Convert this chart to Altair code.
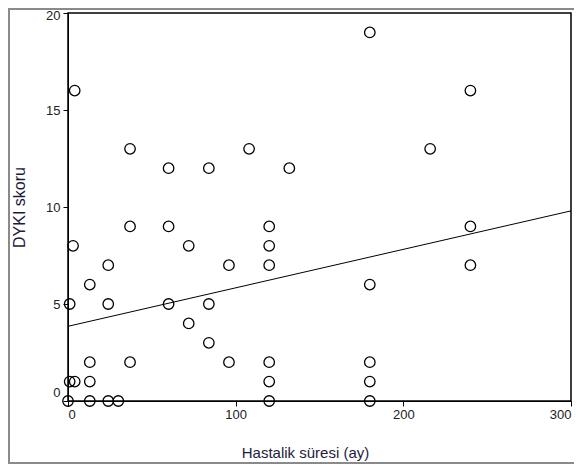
import altair as alt
import pandas as pd

# Disease duration (months) and DYKI score
duration = [0, 13, 24, 30, 120, 180,
            1, 4, 13, 120, 180,
            13, 37, 96, 120, 180,
            84,
            72,
            1, 24, 60, 84,
            13, 180,
            24, 96, 120, 240,
            3, 72, 120,
            37, 60, 120, 240,
            60, 84, 132,
            37, 108, 216,
            4, 240,
            180]
score = [0, 0, 0, 0, 0, 0,
         1, 1, 1, 1, 1,
         2, 2, 2, 2, 2,
         3,
         4,
         5, 5, 5, 5,
         6, 6,
         7, 7, 7, 7,
         8, 8, 8,
         9, 9, 9, 9,
         12, 12, 12,
         13, 13, 13,
         16, 16,
         19]

fit_x = [0, 300]
fit_y = [3.85, 9.8]

x_ticks = [0, 100, 200, 300]
y_ticks = [0, 5, 10, 15, 20]

W, H = 503, 388

pts = pd.DataFrame({"x": duration, "y": score})
fit = pd.DataFrame({"x": fit_x, "y": fit_y})

FONT = "Liberation Sans"

xscale = alt.Scale(domain=[0, 300], nice=False, zero=False)
yscale = alt.Scale(domain=[0, 20], nice=False, zero=False)

xaxis = alt.Axis(title="Hastalik süresi (ay)", values=x_ticks, grid=False,
                 tickSize=5, tickColor="black", domainColor="black",
                 labelFont=FONT, labelFontSize=13, labelColor="#222222",
                 labelPadding=2, titleFont=FONT, titleFontSize=15,
                 titleFontWeight="normal", titleColor="#1c1c3c", titlePadding=24,
                 titleX=237, titleAlign="center")
yaxis = alt.Axis(title="DYKI skoru", values=y_ticks, grid=False,
                 tickSize=5, tickColor="black", domainColor="black",
                 labelFont=FONT, labelFontSize=13, labelColor="#222222",
                 labelPadding=3,
                 labelOffset={"condition": [{"test": "datum.value == 0", "value": -9},
                                            {"test": "datum.value == 20", "value": 2}],
                              "value": 0},
                 titleFont=FONT, titleFontSize=16, titleFontWeight="normal",
                 titleColor="#1c1c3c", titlePadding=18)

points = alt.Chart(pts).mark_point(
    shape="circle", filled=False, color="black", size=110, strokeWidth=1.3, opacity=1
).encode(
    x=alt.X("x:Q", scale=xscale, axis=xaxis),
    y=alt.Y("y:Q", scale=yscale, axis=yaxis),
)

line = alt.Chart(fit).mark_line(color="black", strokeWidth=1).encode(
    x=alt.X("x:Q", scale=xscale),
    y=alt.Y("y:Q", scale=yscale),
)

frame = alt.Chart(pd.DataFrame({"a": [0]})).mark_rect(
    fillOpacity=0, stroke="#8a8a8a", strokeWidth=2
).encode(
    x=alt.value(-59), x2=alt.value(W + 40), y=alt.value(-4), y2=alt.value(450)
)

chart = alt.layer(frame, line, points).properties(
    width=W, height=H,
    autosize=alt.AutoSizeParams(type="none"),
    padding={"left": 60, "top": 5, "right": 3, "bottom": 64},
    background="white",
).configure_view(stroke="black", strokeWidth=1.5)

chart.save("out.html", embed_options={"renderer": "svg", "actions": False})
